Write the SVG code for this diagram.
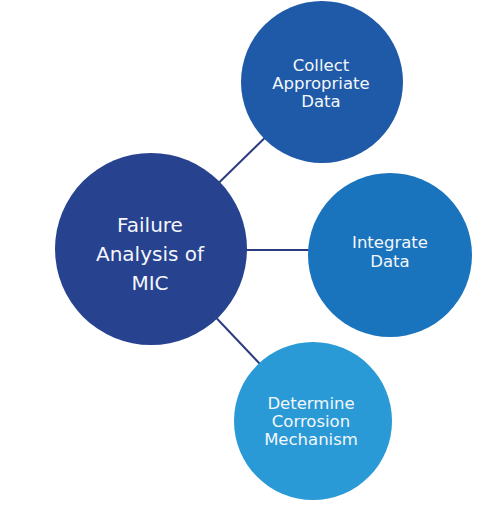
<svg xmlns="http://www.w3.org/2000/svg" width="492" height="510" viewBox="0 0 492 510">
  <style>
    .conn { stroke: #2d3b80; stroke-width: 2; fill: none; }
    .lbl { font-family: "DejaVu Sans", Verdana, sans-serif; fill: #f4f7fc; text-anchor: middle; }
    .big { font-size: 20px; }
    .small { font-size: 16.5px; }
  </style>
  <rect width="492" height="510" fill="#ffffff"/>
  <g id="connectors">
    <line class="conn" x1="151" y1="249" x2="322" y2="82"/>
    <line class="conn" x1="151" y1="250" x2="390" y2="250"/>
    <line class="conn" x1="151" y1="249" x2="314" y2="421"/>
  </g>
  <g id="node-center">
    <circle cx="151" cy="249" r="96" fill="#27428f"/>
    <text class="lbl big" x="150" y="232">Failure</text>
    <text class="lbl big" x="150" y="261">Analysis of</text>
    <text class="lbl big" x="150" y="290">MIC</text>
  </g>
  <g id="node-collect">
    <circle cx="322" cy="82" r="81" fill="#1f5aa8"/>
    <text class="lbl small" x="321" y="71">Collect</text>
    <text class="lbl small" x="321" y="89">Appropriate</text>
    <text class="lbl small" x="321" y="107">Data</text>
  </g>
  <g id="node-integrate">
    <circle cx="390" cy="255" r="82" fill="#1a73bd"/>
    <text class="lbl small" x="390" y="248">Integrate</text>
    <text class="lbl small" x="390" y="267">Data</text>
  </g>
  <g id="node-determine">
    <circle cx="313" cy="421" r="79" fill="#2a9ad6"/>
    <text class="lbl small" x="311" y="409">Determine</text>
    <text class="lbl small" x="311" y="427">Corrosion</text>
    <text class="lbl small" x="311" y="445">Mechanism</text>
  </g>
</svg>
